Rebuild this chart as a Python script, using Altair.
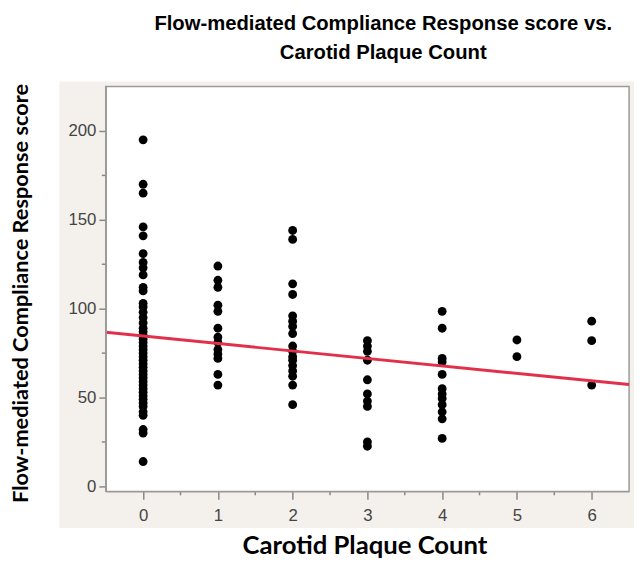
import altair as alt
import pandas as pd

# Flow-mediated Compliance Response score by Carotid Plaque Count
plaque_0 = [195, 170, 165, 146, 141, 131, 126, 123, 119, 112, 110, 103, 101, 98, 95,
            92, 89, 87, 85, 83, 81, 79, 77, 75, 73, 71, 69, 67, 65, 63, 61, 59, 57,
            55, 53, 51, 49, 47, 45, 42, 40, 32, 30, 14]
plaque_1 = [124, 116, 112, 102, 98.5, 89, 84, 81, 77, 74.5, 72, 63, 57]
plaque_2 = [144, 139, 114, 108, 96, 93, 90, 86, 79, 76, 73, 71, 68, 65, 62, 57, 46]
plaque_3 = [82, 79, 76, 71, 60, 52, 48, 45, 25, 22.6]
plaque_4 = [98.5, 89, 72, 70, 63, 55, 52, 49.5, 46, 42, 38, 27]
plaque_5 = [82.4, 73]
plaque_6 = [93, 82, 57]

fit_x = [-0.5, 6.5]
fit_y = [86.7, 57.3]

x_ticks = [0, 1, 2, 3, 4, 5, 6]
x_minor = [0.5, 1.5, 2.5, 3.5, 4.5, 5.5]
y_ticks = [0, 50, 100, 150, 200]
y_minor = [25, 75, 125, 175]

groups = [plaque_0, plaque_1, plaque_2, plaque_3, plaque_4, plaque_5, plaque_6]
rows = []
for count, vals in enumerate(groups):
    for v in vals:
        rows.append({"count": count, "score": v})
pts = pd.DataFrame(rows)
fit = pd.DataFrame({"count": fit_x, "score": fit_y})
xminor_df = pd.DataFrame({"count": x_minor})
yminor_df = pd.DataFrame({"score": y_minor})
one = pd.DataFrame({"a": [0]})

W, H = 530, 410
xs = alt.Scale(domain=[-0.5, 6.5], nice=False, zero=False)
ys = alt.Scale(domain=[-2.8, 225], nice=False, zero=False)
TICK = "#888888"

bg = alt.Chart(one).mark_rect(color="#f4f1ec").encode(
    x=alt.value(-47), x2=alt.value(W + 10), y=alt.value(-5), y2=alt.value(H + 37)
)
frame = alt.Chart(one).mark_rect(fill="white", stroke="#9a9a9a", strokeWidth=1.5).encode(
    x=alt.value(0), x2=alt.value(W), y=alt.value(0), y2=alt.value(H)
)

xminor = alt.Chart(xminor_df).mark_rule(color=TICK, strokeWidth=1.5).encode(
    x=alt.X("count:Q", scale=xs), y=alt.value(H), y2=alt.value(H + 4)
)
yminor = alt.Chart(yminor_df).mark_rule(color=TICK, strokeWidth=1.5).encode(
    y=alt.Y("score:Q", scale=ys), x=alt.value(-4), x2=alt.value(0)
)

points = alt.Chart(pts).mark_circle(size=80, color="black", opacity=1).encode(
    x=alt.X("count:Q", scale=xs, axis=alt.Axis(
        orient="bottom", values=x_ticks, format="d", title="Carotid Plaque Count",
        grid=False, zindex=1,
        tickSize=8, tickColor=TICK, tickWidth=1.5, domainColor="#9a9a9a", domainWidth=1.5,
        labelFont="Liberation Sans", labelFontSize=17, labelColor="#444444", labelPadding=9,
        titleFont="Lato", titleFontSize=26, titleFontWeight="bold", titleColor="black",
        titleX=262, titleY=55, titleBaseline="middle", titleAnchor="middle")),
    y=alt.Y("score:Q", scale=ys, axis=alt.Axis(
        orient="left", values=y_ticks, format="d",
        title="Flow-mediated Compliance Response score",
        grid=False, zindex=1,
        tickSize=7, tickColor=TICK, tickWidth=1.5, domainColor="#9a9a9a", domainWidth=1.5,
        labelFont="Liberation Sans", labelFontSize=17, labelColor="#444444", labelPadding=3,
        titleFont="Lato", titleFontSize=22, titleFontWeight="bold", titleColor="black",
        titleAngle=-90, titleX=-86, titleY=209, titleBaseline="middle", titleAlign="center")),
)

line = alt.Chart(fit).mark_line(color="#e2304a", strokeWidth=3).encode(
    x=alt.X("count:Q", scale=xs),
    y=alt.Y("score:Q", scale=ys),
)

chart = alt.layer(bg, frame, xminor, yminor, points, line).properties(
    width=W, height=H,
    title=alt.TitleParams(
        ["Flow-mediated Compliance Response score vs.", "Carotid Plaque Count"],
        font="Liberation Sans", fontSize=20.5, fontWeight="bold", color="black",
        anchor="middle", dx=16, lineHeight=30, offset=18),
    autosize=alt.AutoSizeParams(type="none"),
    padding={"left": 99, "top": 76, "right": 5, "bottom": 70},
).configure_view(stroke=None)

chart.save("out.html", embed_options={"renderer": "svg", "actions": False})
